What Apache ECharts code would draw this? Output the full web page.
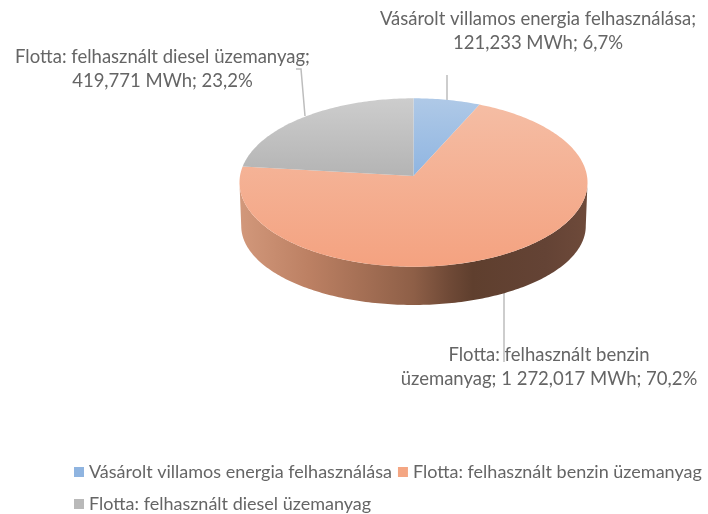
<!DOCTYPE html>
<html><head><meta charset="utf-8">
<style>html,body{margin:0;padding:0;background:#fff}#c{width:708px;height:514px}</style>
<script src="https://cdn.jsdelivr.net/npm/echarts@6/dist/echarts.min.js"></script>
</head><body><div id="c"></div>
<script>
const categories = ['Vásárolt villamos energia felhasználása','Flotta: felhasznált benzin üzemanyag','Flotta: felhasznált diesel üzemanyag'];
const values = [121.233, 1272.017, 419.771];
const valueLabels = ['121,233 MWh','1 272,017 MWh','419,771 MWh'];
const percentLabels = ['6,7%','70,2%','23,2%'];
const legendColors = ['#8FB4E0','#F4A683','#B9B9B9'];
const topGradients = [['#AFC9E7','#8FB5E1'],['#F5BDA4','#F4A280'],['#CDCDCD','#B4B4B4']];

const FONT = 'Lato, "Noto Sans", sans-serif';
const TEXT = '#656565';
const LEAD = '#BDBDBD';
const total = values.reduce((a,b)=>a+b,0);
let acc = 0;
const spans = values.map(v=>{const s=[acc/total, (acc+v)/total]; acc+=v; return s;});

// Perspective projection of the pie's disc
const P = {cx:413.5, cy:176, rx:173.5, ry:83.7, k:0.0772};
const EXTREME = Math.acos(-P.k)*180/Math.PI; // angle where the rim is widest
function project(deg, dy, sx, sy){
  const a = deg*Math.PI/180, u=Math.sin(a), v=Math.cos(a), w=1+P.k*v;
  return [P.cx + P.rx*sx*u/w, P.cy + dy - P.ry*sy*v/w];
}
function arc(from,to,dy,sx,sy){
  const pts=[], n=Math.max(2,Math.ceil(Math.abs(to-from)));
  for(let i=0;i<=n;i++) pts.push(project(from+(to-from)*i/n,dy,sx,sy));
  return pts;
}
const grad=(c)=>new echarts.graphic.LinearGradient(0,0,0,1,[{offset:0,color:c[0]},{offset:1,color:c[1]}]);
function makeRender(idx){
  return function(params,api){
    const a0=api.value(0)*360, a1=api.value(1)*360, children=[];
    const w0=Math.max(a0,EXTREME), w1=Math.min(a1,360-EXTREME);
    if(w1>w0){
      const pts=arc(w0,w1,0,1,1).concat(arc(w1,w0,44,0.99,0.937));
      children.push({type:'polygon',shape:{points:pts},style:{
        fill:new echarts.graphic.LinearGradient(0,0,1,0,[
          {offset:0,color:'#D2987B'},{offset:0.2,color:'#BC8063'},
          {offset:0.5,color:'#8E5F47'},{offset:0.6,color:'#704A37'},
          {offset:0.67,color:'#5F3F2E'},{offset:0.88,color:'#644335'},{offset:1,color:'#6E4A3A'}])}});
    }
    const top=[[P.cx,P.cy]].concat(arc(a0,a1,0,1,1));
    children.push({type:'polygon',shape:{points:top},style:{fill:grad(topGradients[idx])}});
    return {type:'group',children};
  };
}
const series=categories.map((name,i)=>({
  type:'custom',name,coordinateSystem:'none',silent:true,animation:false,
  itemStyle:{color:legendColors[i]},
  encode:{},
  data:[{value:spans[i]}],
  renderItem:makeRender(i)
}));
const label=(lines,cx,y)=>lines.map((t,i)=>({type:'text',x:cx,y:y+i*24,silent:true,
  style:{text:t,font:'18.5px '+FONT,fill:TEXT,textAlign:'center',textVerticalAlign:'middle'}}));
const lead=(points)=>({type:'polyline',silent:true,shape:{points},style:{stroke:LEAD,lineWidth:1.5,fill:null}});
const chart=echarts.init(document.getElementById('c'),null,{renderer:'canvas'});
chart.setOption({
  animation:false,
  color:legendColors,
  legend:{left:69,top:454,width:640,itemWidth:10,itemHeight:10,itemGap:6,icon:'rect',
    selectedMode:false,data:categories,
    textStyle:{fontFamily:FONT,fontSize:18,color:TEXT,lineHeight:26}},
  series,
  graphic:[
    lead([[447,75],[447,101]]),
    lead([[296,69],[301,69],[305,116]]),
    lead([[504,293],[504,362]]),
    ...label([categories[0]+';',valueLabels[0]+'; '+percentLabels[0]],538,19),
    ...label([categories[2]+';',valueLabels[2]+'; '+percentLabels[2]],162.5,57),
    ...label(['Flotta: felhasznált benzin','üzemanyag; '+valueLabels[1]+'; '+percentLabels[1]],549,355)
  ]
});
</script></body></html>
